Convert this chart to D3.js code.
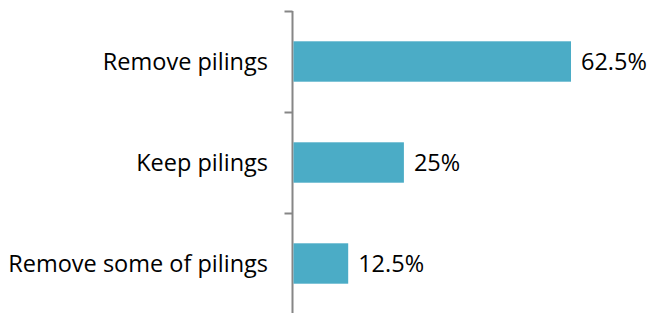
<!DOCTYPE html>
<html>
<head>
<meta charset="utf-8">
<script src="https://cdn.jsdelivr.net/npm/d3@7"></script>
<style>
  body { margin: 0; background: #fff; }
  text { font-family: "Open Sans", sans-serif; fill: #000; }
</style>
</head>
<body>
<script>
// chart data
var categories = ["Remove pilings", "Keep pilings", "Remove some of pilings"];
var values = [62.5, 25, 12.5];
var valueLabels = ["62.5%", "25%", "12.5%"];

var width = 651, height = 313;
var axisX = 292.5;

var svg = d3.select("body").append("svg")
    .attr("width", width)
    .attr("height", height);

// x: percentage -> pixels
var x = d3.scaleLinear()
    .domain([0, 62.5])
    .range([axisX, 571]);

// y: one band per category
var y = d3.scaleBand()
    .domain(categories)
    .range([11, 314])
    .paddingInner(0.6)
    .paddingOuter(0.3);

var yTicks = d3.scaleBand().domain(categories).range([11, 314]);

// axis line + tick marks at band boundaries
var axisG = svg.append("g");
axisG.append("line")
    .attr("x1", axisX).attr("x2", axisX)
    .attr("y1", 11).attr("y2", 316)
    .attr("stroke", "#868686").attr("stroke-width", 2);

var boundaries = categories.map(function (d) { return yTicks(d); }).concat([314]);
axisG.selectAll(".tick")
    .data(boundaries)
    .enter()
    .append("line")
    .attr("x1", axisX - 8).attr("x2", axisX)
    .attr("y1", function (d) { return d + 0.5; })
    .attr("y2", function (d) { return d + 0.5; })
    .attr("stroke", "#868686").attr("stroke-width", 2);

// bars
svg.append("g")
    .selectAll("rect")
    .data(values)
    .enter()
    .append("rect")
    .attr("x", x(0) + 1)
    .attr("y", function (d, i) { return y(categories[i]); })
    .attr("width", function (d) { return x(d) - x(0) - 1; })
    .attr("height", y.bandwidth())
    .attr("fill", "#4BACC6");

// category labels
svg.append("g")
    .selectAll("text")
    .data(categories)
    .enter()
    .append("text")
    .attr("x", 268)
    .attr("y", function (d) { return y(d) + y.bandwidth() / 2; })
    .attr("dy", "0.35em")
    .attr("text-anchor", "end")
    .style("font-size", "23.5px")
    .text(function (d) { return d; });

// value labels
svg.append("g")
    .selectAll("text")
    .data(values)
    .enter()
    .append("text")
    .attr("x", function (d) { return x(d) + 10; })
    .attr("y", function (d, i) { return y(categories[i]) + y.bandwidth() / 2; })
    .attr("dy", "0.35em")
    .style("font-size", "23.5px")
    .text(function (d, i) { return valueLabels[i]; });
</script>
</body>
</html>
